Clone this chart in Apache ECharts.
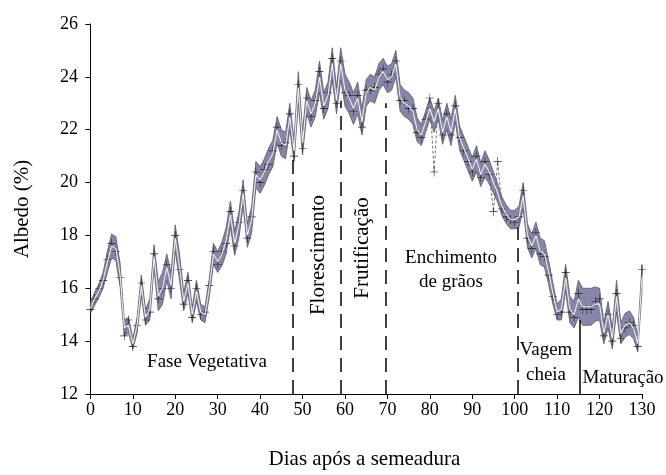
<!DOCTYPE html>
<html><head><meta charset="utf-8">
<script src="https://cdn.jsdelivr.net/npm/echarts@6/dist/echarts.min.js"></script>
<style>html,body{margin:0;padding:0;background:#fff}#c{width:666px;height:475px}</style>
</head><body><div id="c"></div>
<script>
// Days after sowing (0..130)
var days = [];
for (var i = 0; i <= 130; i++) days.push(i);
// Lower edge of the shaded band (%)
var bandLow = [15.05,15.35,15.65,16.0,16.6,17.15,17.05,16.05,14.2,14.3,13.7,14.3,15.7,14.6,14.8,16.75,15.15,15.4,16.3,15.6,
17.4,16.3,15.15,15.8,14.7,15.5,14.8,14.7,15.65,16.9,16.6,16.85,17.3,18.3,17.25,17.9,19.1,17.55,18.1,19.8,
19.6,19.9,20.3,20.6,21.5,21.0,20.9,22.0,20.8,23.0,21.05,22.6,22.1,22.5,23.4,22.4,22.8,23.9,22.6,23.9,
22.9,22.6,22.2,22.6,21.8,22.9,23.1,23.0,23.5,23.7,23.4,23.5,24.0,22.7,22.5,22.4,22.2,21.55,21.4,21.9,
22.4,21.9,22.4,21.45,22.0,21.4,22.3,21.25,20.85,20.45,20.05,20.4,19.85,20.2,19.95,19.6,19.25,18.75,18.45,18.25,
18.25,18.3,19.0,17.55,17.15,17.5,16.9,16.8,16.15,15.4,14.8,14.8,15.9,14.7,14.5,14.9,14.6,14.6,14.6,14.75,
14.8,13.9,14.5,13.7,15.1,13.9,14.15,14.25,14.1,13.6,15.9];
// Upper edge of the shaded band (%)
var bandHigh = [15.45,15.85,16.15,16.6,17.4,18.05,17.95,16.95,14.8,14.9,14.1,14.9,16.5,15.2,15.6,17.65,16.25,16.6,17.3,16.6,
18.4,17.3,15.85,16.6,15.3,16.3,15.4,15.3,16.35,17.7,17.4,17.75,18.3,19.3,18.15,18.9,20.1,18.45,19.1,20.8,
20.6,20.9,21.3,21.6,22.5,22.0,21.9,23.0,21.6,24.2,21.95,23.6,23.1,23.5,24.6,23.4,23.8,25.1,23.6,25.1,
24.1,23.8,23.4,23.8,22.8,23.9,24.1,24.0,24.5,24.7,24.4,24.5,25.0,23.7,23.5,23.4,23.2,22.45,22.2,22.7,
23.2,22.7,23.2,22.35,23.0,22.4,23.3,22.15,21.75,21.35,20.95,21.4,20.75,21.2,20.85,20.4,19.95,19.45,19.15,18.95,
18.95,19.1,20.0,18.45,18.05,18.5,17.9,17.8,17.05,16.2,15.4,15.6,16.9,15.7,15.5,16.3,16.0,16.0,16.0,16.05,
16.0,14.7,15.5,14.5,16.3,14.7,15.05,15.15,14.9,14.2,16.9];
// Mean albedo (white centre line, %)
var meanAlbedo = [15.25,15.6,15.9,16.3,17.0,17.6,17.5,16.5,14.5,14.6,13.9,14.6,16.1,14.9,15.2,17.2,15.7,16.0,16.8,16.1,
17.9,16.8,15.5,16.2,15.0,15.9,15.1,15.0,16.0,17.3,17.0,17.3,17.8,18.8,17.7,18.4,19.6,18.0,18.6,20.3,
20.1,20.4,20.8,21.1,22.0,21.5,21.4,22.5,21.2,23.6,21.5,23.1,22.6,23.0,24.0,22.9,23.3,24.5,23.1,24.5,
23.5,23.2,22.8,23.2,22.3,23.4,23.6,23.5,24.0,24.2,23.9,24.0,24.5,23.2,23.0,22.9,22.7,22.0,21.8,22.3,
22.8,22.3,22.8,21.9,22.5,21.9,22.8,21.7,21.3,20.9,20.5,20.9,20.3,20.7,20.4,20.0,19.6,19.1,18.8,18.6,
18.6,18.7,19.5,18.0,17.6,18.0,17.4,17.3,16.6,15.8,15.1,15.2,16.4,15.2,15.0,15.6,15.3,15.3,15.3,15.4,
15.4,14.3,15.0,14.1,15.7,14.3,14.6,14.7,14.5,13.9,16.4];
// Second measurement (dashed line with + markers, %)
var measured = [15.2,15.6,16.0,16.3,17.1,17.7,17.4,16.4,14.2,14.8,13.8,14.6,16.2,14.8,15.1,17.3,15.6,16.0,16.9,16.0,
18.0,16.7,15.4,16.3,14.9,16.0,15.0,15.1,16.1,17.4,16.9,17.4,17.7,18.9,17.6,18.5,19.7,17.9,18.7,20.4,
20.0,20.5,20.7,21.2,22.1,21.4,21.5,22.6,21.0,23.7,21.3,23.2,22.5,23.1,24.2,22.8,23.4,24.7,23.0,24.6,
23.4,23.3,22.7,23.3,22.1,23.5,23.5,23.6,24.1,24.3,23.8,24.1,24.6,23.1,23.1,22.8,22.8,21.9,21.7,22.4,
23.2,20.4,23.0,21.8,22.6,21.8,22.9,21.7,21.2,20.8,20.4,21.0,20.2,20.8,20.3,18.9,20.8,19.0,18.7,18.6,
18.5,18.7,19.7,17.9,17.5,18.1,17.3,17.2,16.5,15.7,15.0,15.1,16.6,15.1,14.9,15.8,15.2,15.2,15.2,15.5,
15.6,14.2,15.0,14.0,15.8,14.1,14.5,14.7,14.6,13.8,16.7];
// Phase boundaries (day, top of the marker line in %, dashed?)
var phaseDays = [47.8, 58.9, 69.5, 100.6, 115.4];
var phaseTops = [20.9, 23.1, 23.0, 18.3, 14.8];
var phaseDashed = [true, true, true, true, false];
var xTicks = [0,10,20,30,40,50,60,70,80,90,100,110,120,130];

var serif = "'Liberation Serif','Times New Roman',serif";
function pairs(arr){ return days.map(function(d,i){ return [d, arr[i]]; }); }

var markData = phaseDays.map(function(d,i){
  return [{coord:[d,12], lineStyle:{type: phaseDashed[i] ? [14,8] : 'solid'}}, {coord:[d, phaseTops[i]]}];
});

var plus = 'path://M-0.7,-10L0.7,-10L0.7,10L-0.7,10ZM-10,-0.7L10,-0.7L10,0.7L-10,0.7Z';

function renderBand(params, api){
  if (params.dataIndex !== 0) return;
  var pts = [];
  for (var i = 0; i < days.length; i++) pts.push(api.coord([days[i], bandHigh[i]]));
  for (var j = days.length - 1; j >= 0; j--) pts.push(api.coord([days[j], bandLow[j]]));
  return {type:'polygon', shape:{points:pts},
    style:{fill:'#8686a8', stroke:'#55556a', lineWidth:0.8}};
}

var chart = echarts.init(document.getElementById('c'), null, {renderer:'canvas'});
chart.setOption({
  animation:false,
  backgroundColor:'#fff',
  grid:{left:87, right:24, top:24, bottom:77, containLabel:false},
  xAxis:{type:'value', min:-0.8, max:130,
    axisLine:{lineStyle:{color:'#000', width:1}},
    axisTick:{show:true, customValues:xTicks, length:5, lineStyle:{color:'#000'}},
    axisLabel:{customValues:xTicks, color:'#000', fontFamily:serif, fontSize:18, margin:7},
    splitLine:{show:false},
    name:'Dias após a semeadura', nameLocation:'middle', nameGap:55,
    nameTextStyle:{color:'#000', fontFamily:serif, fontSize:21}
  },
  yAxis:{type:'value', min:12, max:26, interval:2,
    axisLine:{show:true, lineStyle:{color:'#000', width:1}},
    axisTick:{show:true, length:5, lineStyle:{color:'#000'}},
    axisLabel:{color:'#000', fontFamily:serif, fontSize:18, margin:9},
    splitLine:{show:false},
    name:'Albedo (%)', nameLocation:'middle', nameGap:54, nameRotate:90,
    nameTextStyle:{color:'#000', fontFamily:serif, fontSize:21}
  },
  series:[
    {type:'custom', name:'band', data:pairs(bandLow), renderItem:renderBand, silent:true, z:2,
     markLine:{silent:true, symbol:['none','none'], label:{show:false},
       lineStyle:{color:'#000', width:1.5}, data:markData}},
    {type:'line', name:'measured', data:pairs(measured), symbol:plus, symbolSize:[8,9],
     itemStyle:{color:'#222'}, lineStyle:{color:'#555', width:0.8, type:[3,2]}, silent:true, z:3},
    {type:'line', name:'mean', data:pairs(meanAlbedo), symbol:'none',
     lineStyle:{color:'#eeeeee', width:1.1}, silent:true, z:4}
  ],
  graphic:[
    {type:'text', x:207, y:362, style:{text:'Fase Vegetativa', font:'19px '+serif, fill:'#000', align:'center', verticalAlign:'middle'}},
    {type:'text', x:318, y:255, rotation:Math.PI/2, style:{text:'Florescimento', font:'21px '+serif, fill:'#000', align:'center', verticalAlign:'middle'}},
    {type:'text', x:362, y:248, rotation:Math.PI/2, style:{text:'Frutificação', font:'21px '+serif, fill:'#000', align:'center', verticalAlign:'middle'}},
    {type:'text', x:451, y:258, style:{text:'Enchimento', font:'19px '+serif, fill:'#000', align:'center', verticalAlign:'middle'}},
    {type:'text', x:451, y:282, style:{text:'de grãos', font:'19px '+serif, fill:'#000', align:'center', verticalAlign:'middle'}},
    {type:'text', x:546, y:350, style:{text:'Vagem', font:'19px '+serif, fill:'#000', align:'center', verticalAlign:'middle'}},
    {type:'text', x:546, y:375, style:{text:'cheia', font:'19px '+serif, fill:'#000', align:'center', verticalAlign:'middle'}},
    {type:'text', x:623, y:378, style:{text:'Maturação', font:'19px '+serif, fill:'#000', align:'center', verticalAlign:'middle'}}
  ]
});
</script></body></html>
